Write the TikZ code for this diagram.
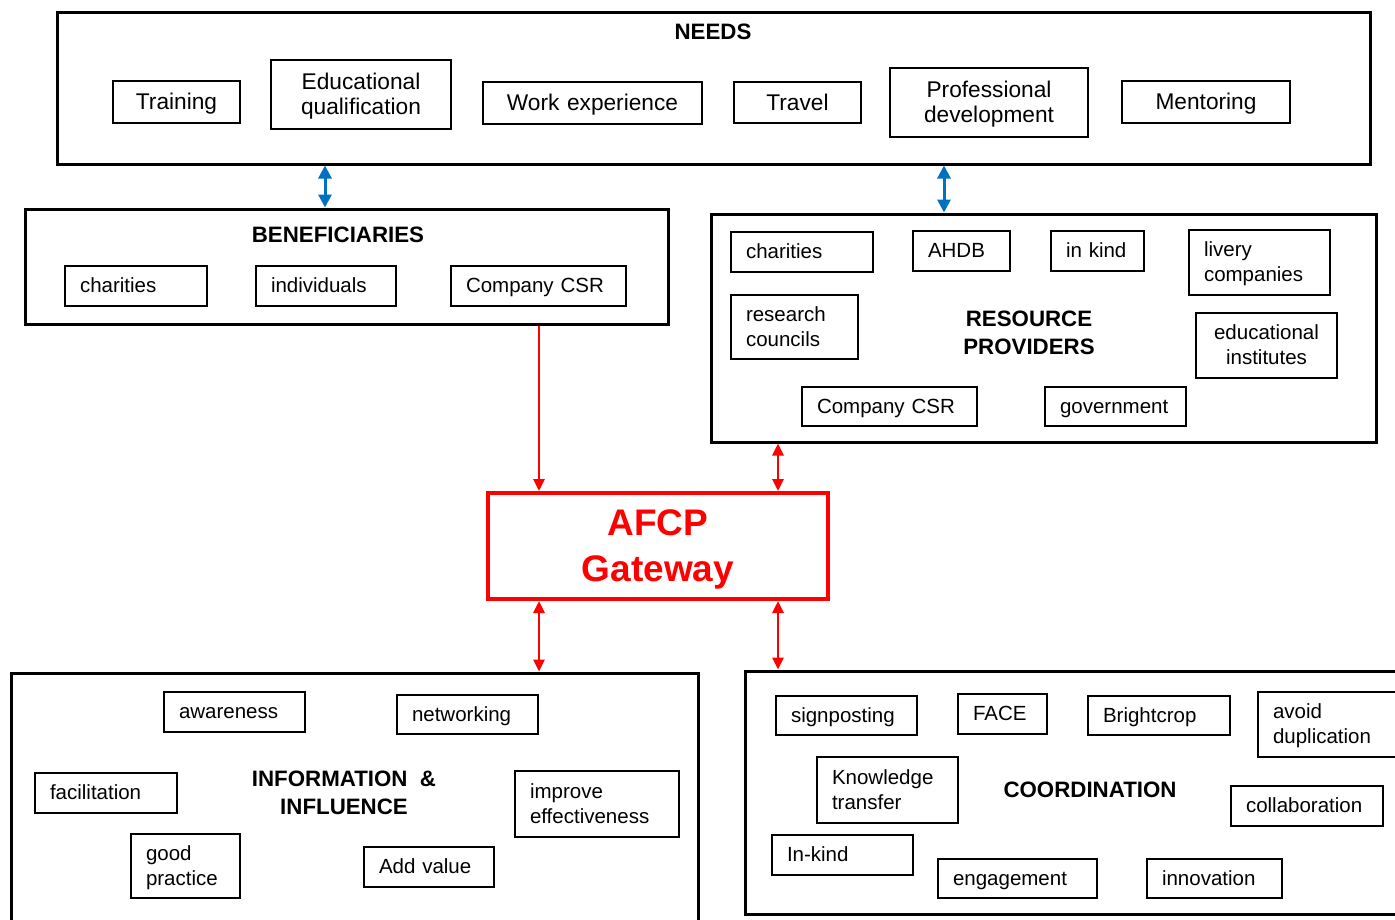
\documentclass[tikz,border=0pt]{standalone}
\usepackage{fontspec}
\setmainfont{Liberation Sans}
\usetikzlibrary{arrows.meta}
\definecolor{ablue}{RGB}{0,112,192}
\definecolor{ared}{RGB}{255,0,0}
\newcommand\mystrut{\rule[-0.21em]{0pt}{1.1em}}
% style, name, x1, y1, x2, y2, align, text
\newcommand\ibx[8]{%
  \pgfmathsetmacro\bxtw{#5-#3-30}%
  \pgfmathsetmacro\bxh{#6-#4}%
  \node[#1, minimum height=\bxh pt, text width=\bxtw pt, align=#7] (#2) at ({(#3+#5)/2},{(#4+#6)/2}) {#8};}
% name, x1, y1, x2, y2
\newcommand\obx[5]{%
  \pgfmathsetmacro\bxw{#4-#2}%
  \pgfmathsetmacro\bxh{#5-#3}%
  \node[outerbox, minimum width=\bxw pt, minimum height=\bxh pt] (#1) at ({(#2+#4)/2},{(#3+#5)/2}) {};}
\begin{document}
\begin{tikzpicture}[x=1pt,y=-1pt,
  basebox/.style={draw, rectangle, inner xsep=15pt, inner ysep=0pt,
    execute at begin node=\mystrut, execute at end node=\mystrut},
  nbox/.style={basebox, line width=2pt, font=\fontsize{22.7}{25}\selectfont},
  ibox/.style={basebox, line width=1.3pt, font=\fontsize{20.5}{25}\selectfont},
  outerbox/.style={draw, rectangle, line width=3pt, inner sep=0pt},
  titletext/.style={font=\bfseries\fontsize{22.3}{28}\selectfont, align=center, inner sep=0pt},
  barrow/.style={draw=ablue, line width=3pt, {Triangle[length=13pt,width=13pt]}-{Triangle[length=13pt,width=13pt]}},
  rarrow/.style={draw=ared, line width=2.8pt, {Triangle[length=12pt,width=11pt]}-{Triangle[length=12pt,width=11pt]}},
  rarrowone/.style={draw=ared, line width=2.8pt, -{Triangle[length=12pt,width=11pt]}}
]
\useasboundingbox (0,0) rectangle (1395,919);
\clip (0,0) rectangle (1395,919);

% outer boxes
\obx{needs}{57}{12}{1370}{164}
\obx{benef}{25}{209}{668}{324}
\obx{rp}{711}{214}{1376}{442}
\obx{info}{11}{673}{698}{930}
\obx{coord}{745}{671}{1410}{914}

% titles
\node[titletext] (tneeds) at (713,32) {NEEDS};
\node[titletext] (tbenef) at (338,235) {BENEFICIARIES};
\node[titletext] (trp) at (1029,333) {RESOURCE\\PROVIDERS};
\node[titletext] (tinfo) at (344,793) {INFORMATION \ \&\\INFLUENCE};
\node[titletext] (tcoord) at (1090,790) {COORDINATION};

% NEEDS
\ibx{nbox}{train}{113}{81}{240}{123}{center}{Training}
\ibx{nbox}{eduq}{271}{60}{451}{129}{center}{Educational\\qualification}
\ibx{nbox}{work}{483}{82}{702}{124}{center}{Work experience}
\ibx{nbox}{travel}{734}{82}{861}{123}{center}{Travel}
\ibx{nbox}{prof}{890}{68}{1088}{137}{center}{Professional\\development}
\ibx{nbox}{ment}{1122}{81}{1290}{123}{center}{Mentoring}

% BENEFICIARIES
\ibx{ibox}{bchar}{65}{266}{207}{306}{left}{charities}
\ibx{ibox}{bind}{256}{266}{396}{306}{left}{individuals}
\ibx{ibox}{bcsr}{451}{266}{626}{306}{left}{Company CSR}

% RESOURCE PROVIDERS
\ibx{ibox}{rchar}{731}{232}{873}{272}{left}{charities}
\ibx{ibox}{ahdb}{913}{231}{1010}{271}{left}{AHDB}
\ibx{ibox}{kind}{1051}{231}{1144}{271}{left}{in kind}
\ibx{ibox}{livery}{1189}{230}{1330}{295}{left}{livery\\companies}
\ibx{ibox}{rc}{731}{295}{858}{359}{left}{research\\councils}
\ibx{ibox}{edu}{1196}{313}{1337}{378}{center}{educational\\institutes}
\ibx{ibox}{rcsr}{802}{387}{977}{426}{left}{Company CSR}
\ibx{ibox}{gov}{1045}{387}{1186}{426}{left}{government}

% INFORMATION & INFLUENCE
\ibx{ibox}{aware}{164}{692}{305}{732}{left}{awareness}
\ibx{ibox}{netw}{397}{695}{538}{734}{left}{networking}
\ibx{ibox}{facil}{35}{773}{177}{813}{left}{facilitation}
\ibx{ibox}{impr}{515}{771}{679}{837}{left}{improve\\effectiveness}
\ibx{ibox}{good}{131}{834}{240}{898}{left}{good\\practice}
\ibx{ibox}{addv}{364}{847}{494}{887}{left}{Add value}

% COORDINATION
\ibx{ibox}{sign}{776}{696}{917}{735}{left}{signposting}
\ibx{ibox}{face}{958}{694}{1047}{734}{left}{FACE}
\ibx{ibox}{bright}{1088}{696}{1230}{735}{left}{Brightcrop}
\ibx{ibox}{avoid}{1258}{692}{1402}{757}{left}{avoid\\duplication}
\ibx{ibox}{know}{817}{757}{958}{823}{left}{Knowledge\\transfer}
\ibx{ibox}{collab}{1231}{786}{1383}{826}{left}{collaboration}
\ibx{ibox}{inkind}{772}{835}{913}{875}{left}{In-kind}
\ibx{ibox}{engage}{938}{859}{1097}{898}{left}{engagement}
\ibx{ibox}{innov}{1147}{859}{1282}{898}{left}{innovation}

% Gateway
\node[draw=ared, line width=4pt, text=ared, font=\bfseries\fontsize{37}{46}\selectfont,
  align=center, minimum width=340pt, minimum height=106pt, inner sep=0pt] (gw) at (658,546) {\rule{0pt}{32pt}AFCP\\Gateway};

% connectors
\coordinate (xa) at (325,0);
\coordinate (xb) at (944,0);
\coordinate (xc) at (539,0);
\coordinate (xd) at (778,0);
\draw[barrow] (needs.south -| xa) -- (benef.north -| xa);
\draw[barrow] (needs.south -| xb) -- (rp.north -| xb);
\draw[rarrowone] (benef.south -| xc) -- (gw.north -| xc);
\draw[rarrow] (rp.south -| xd) -- (gw.north -| xd);
\draw[rarrow] (gw.south -| xc) -- (info.north -| xc);
\draw[rarrow] (gw.south -| xd) -- (coord.north -| xd);
\end{tikzpicture}
\end{document}
